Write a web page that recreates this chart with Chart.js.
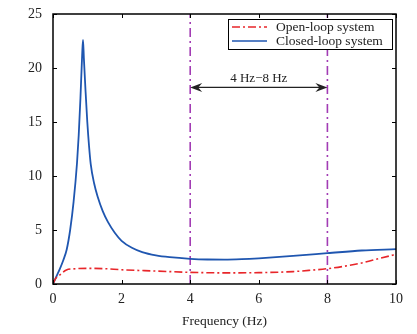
<!DOCTYPE html>
<html><head><meta charset="utf-8">
<script src="https://cdn.jsdelivr.net/npm/chart.js@4/dist/chart.umd.min.js"></script>
<style>html,body{margin:0;padding:0;background:#fff}#wrap{width:417px;height:334px}</style>
</head><body><div id="wrap"><canvas id="c" width="417" height="334"></canvas></div>
<script>
const closedX = [0,0.1,0.2,0.3,0.4,0.5,0.6,0.7,0.75,0.8,0.85,0.875,0.9,0.95,1.0,1.05,1.1,1.2,1.3,1.45,1.6,1.8,2.0,2.3,2.6,3.0,3.4,4.0,4.5,5,5.5,6,7,8,9,10];
const closedY = [0,0.7,1.4,2.2,3.2,5.0,7.6,11.2,13.8,17.2,21.2,22.6,20.9,17.8,15.0,12.8,11.1,9.3,8.1,6.75,5.75,4.75,4.0,3.35,2.95,2.65,2.48,2.33,2.27,2.26,2.3,2.38,2.6,2.85,3.1,3.22];
const openX = [0,0.05,0.1,0.2,0.39,0.6,1.0,1.5,2,3,4,5,6,7,7.5,8,8.5,9,9.5,10];
const openY = [0,0.35,0.6,0.85,1.3,1.4,1.45,1.42,1.32,1.2,1.08,1.03,1.05,1.15,1.27,1.42,1.65,1.95,2.35,2.75];
const seriesNames = ['Open-loop system','Closed-loop system'];
const bandEdges = [4, 8];
const bandLabel = '4 Hz\u22128 Hz';
const arrowLevel = 18.2;
const xTicks = [0,2,4,6,8,10];
const yTicks = [0,5,10,15,20,25];
const xTitle = 'Frequency (Hz)';

const SERIF = '"Liberation Serif","DejaVu Serif",serif';
const RED = '#e8262a', BLUE = '#1f56b0', PURPLE = '#a23cb4';

const frame = {
  id:'frame',
  beforeDatasetsDraw(chart){
    const {ctx, chartArea:a, scales:{x,y}} = chart;
    ctx.save();
    ctx.strokeStyle = PURPLE; ctx.lineWidth = 1.6; ctx.setLineDash([9,4,2,4]);
    bandEdges.forEach(v=>{ const px = x.getPixelForValue(v); ctx.beginPath(); ctx.moveTo(px,a.bottom); ctx.lineTo(px,a.top); ctx.stroke(); });
    ctx.restore();
  },
  afterDraw(chart){
    const {ctx, chartArea:a, scales:{x,y}} = chart;
    ctx.save();
    ctx.strokeStyle = '#000'; ctx.lineWidth = 1.5; ctx.setLineDash([]);
    ctx.strokeRect(a.left, a.top, a.right-a.left, a.bottom-a.top);
    ctx.lineWidth = 1;
    xTicks.forEach(v=>{ const px = Math.round(x.getPixelForValue(v))+0.5; ctx.beginPath(); ctx.moveTo(px,a.bottom); ctx.lineTo(px,a.bottom-4); ctx.moveTo(px,a.top); ctx.lineTo(px,a.top+4); ctx.stroke(); });
    yTicks.forEach(v=>{ const py = Math.round(y.getPixelForValue(v))+0.5; ctx.beginPath(); ctx.moveTo(a.left,py); ctx.lineTo(a.left+4,py); ctx.moveTo(a.right,py); ctx.lineTo(a.right-4,py); ctx.stroke(); });
    const x1 = x.getPixelForValue(bandEdges[0]), x2 = x.getPixelForValue(bandEdges[1]), ay = y.getPixelForValue(arrowLevel);
    ctx.strokeStyle = '#222'; ctx.fillStyle = '#222'; ctx.lineWidth = 1.2;
    ctx.beginPath(); ctx.moveTo(x1+4, ay); ctx.lineTo(x2-4, ay); ctx.stroke();
    const head = (tip, dir)=>{ ctx.beginPath(); ctx.moveTo(tip, ay); ctx.lineTo(tip-dir*12, ay-4.5); ctx.lineTo(tip-dir*8, ay); ctx.lineTo(tip-dir*12, ay+4.5); ctx.closePath(); ctx.fill(); };
    head(x1,-1); head(x2,1);
    ctx.font = '13px '+SERIF; ctx.textAlign = 'center'; ctx.textBaseline = 'alphabetic';
    ctx.fillText(bandLabel, (x1+x2)/2, ay-5);
    const lx = 228, ly = 19, lw = 164, lh = 30;
    ctx.fillStyle = '#fff'; ctx.fillRect(lx, ly, lw, lh);
    ctx.strokeStyle = '#000'; ctx.lineWidth = 1; ctx.strokeRect(lx+0.5, ly+0.5, lw, lh);
    ctx.lineWidth = 1.5;
    ctx.strokeStyle = RED; ctx.setLineDash([8,3,2,3]); ctx.beginPath(); ctx.moveTo(232, 27); ctx.lineTo(267, 27); ctx.stroke();
    ctx.strokeStyle = BLUE; ctx.setLineDash([]); ctx.beginPath(); ctx.moveTo(232, 41); ctx.lineTo(267, 41); ctx.stroke();
    ctx.fillStyle = '#222'; ctx.textAlign = 'left'; ctx.textBaseline = 'middle';
    ctx.font = '13.5px '+SERIF;
    ctx.fillText(seriesNames[0], 276, 27);
    ctx.fillText(seriesNames[1], 276, 41);
    ctx.restore();
  }
};

new Chart(document.getElementById('c'), {
  type:'line',
  data:{ datasets:[
    { label: seriesNames[0], data: openX.map((v,i)=>({x:v,y:openY[i]})), borderColor: RED, borderWidth:1.6, borderDash:[8,3,2,3], pointRadius:0, cubicInterpolationMode:'monotone', fill:false },
    { label: seriesNames[1], data: closedX.map((v,i)=>({x:v,y:closedY[i]})), borderColor: BLUE, borderWidth:1.8, pointRadius:0, cubicInterpolationMode:'monotone', fill:false }
  ]},
  options:{
    responsive:false, animation:false, devicePixelRatio:1,
    layout:{ padding:{ left:0, right:21, top:0, bottom:0 } },
    plugins:{ legend:{display:false}, tooltip:{enabled:false} },
    scales:{
      x:{ type:'linear', min:0, max:10,
          afterBuildTicks(s){ s.ticks = xTicks.map(v=>({value:v})); },
          afterFit(s){ s.height = 50; },
          grid:{ display:false, drawTicks:false }, border:{display:false},
          ticks:{ color:'#222', font:{family:SERIF, size:14}, padding:7, maxRotation:0 },
          title:{ display:true, text:xTitle, color:'#222', font:{family:SERIF, size:13.5}, padding:{top:4,bottom:4} } },
      y:{ type:'linear', min:0, max:25,
          afterBuildTicks(s){ s.ticks = yTicks.map(v=>({value:v})); },
          afterFit(s){ s.width = 53; s.paddingTop = 14; },
          grid:{ display:false, drawTicks:false }, border:{display:false},
          ticks:{ color:'#222', font:{family:SERIF, size:14}, padding:11 } }
    }
  },
  plugins:[frame]
});
</script></body></html>
